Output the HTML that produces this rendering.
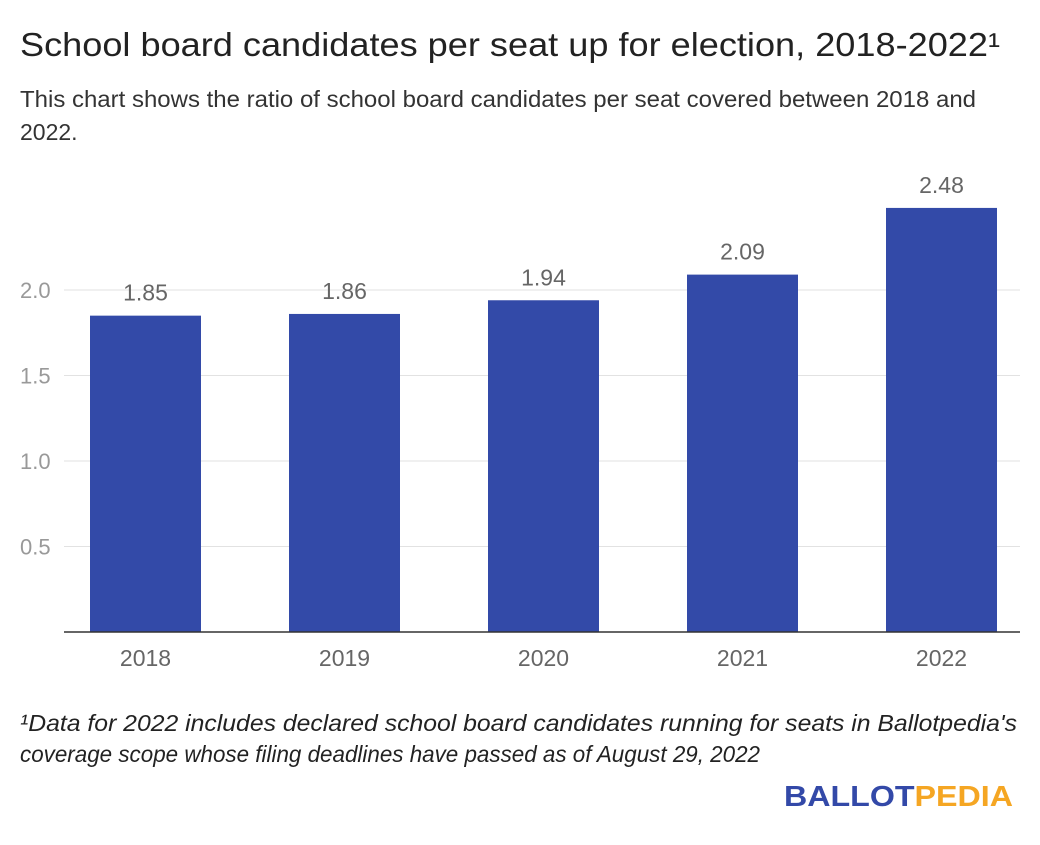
<!DOCTYPE html>
<html><head><meta charset="utf-8"><style>
body{margin:0;background:#fff;width:1040px;height:840px;overflow:hidden;font-family:"Liberation Sans",sans-serif}
</style></head><body>
<svg width="1040" height="840" xmlns="http://www.w3.org/2000/svg">
<text x="20" y="56" font-size="33" fill="#222" textLength="980" lengthAdjust="spacingAndGlyphs">School board candidates per seat up for election, 2018-2022¹</text>
<text x="20" y="107" font-size="23" fill="#333" textLength="956" lengthAdjust="spacingAndGlyphs">This chart shows the ratio of school board candidates per seat covered between 2018 and</text>
<text x="20" y="140" font-size="23" fill="#333">2022.</text>
<g id="grid"></g><g id="bars"></g>
<line x1="64" x2="1020" y1="632" y2="632" stroke="#333" stroke-width="1.5"/>
<text x="20" y="731" font-size="23.5" font-style="italic" fill="#222" textLength="997" lengthAdjust="spacingAndGlyphs">¹Data for 2022 includes declared school board candidates running for seats in Ballotpedia's</text>
<text x="20" y="762" font-size="23.5" font-style="italic" fill="#222" textLength="740" lengthAdjust="spacingAndGlyphs">coverage scope whose filing deadlines have passed as of August 29, 2022</text>
<text x="784" y="806" font-size="29" font-weight="bold" textLength="229" lengthAdjust="spacingAndGlyphs"><tspan fill="#3349a8">BALLOT</tspan><tspan fill="#f5a623">PEDIA</tspan></text>
</svg>
<script>
const categories=["2018","2019","2020","2021","2022"];
const values=[1.85,1.86,1.94,2.09,2.48];
const valueLabels=["1.85","1.86","1.94","2.09","2.48"];
const ticks=[0.5,1.0,1.5,2.0];
const tickLabels=["0.5","1.0","1.5","2.0"];
const NS="http://www.w3.org/2000/svg";
const y0=632,k=171,left=46,band=199;
const y=v=>y0-v*k;
const x=i=>left+band*i+band/2;
function mk(t,a,p,txt){const e=document.createElementNS(NS,t);for(const n in a)e.setAttribute(n,a[n]);if(txt!=null)e.textContent=txt;p.appendChild(e);return e;}
const g=document.getElementById('grid'),b=document.getElementById('bars');
ticks.forEach((t,i)=>{
const l=mk('line',{x1:64,x2:1020,y1:y(t),y2:y(t),stroke:'#e2e2e2','stroke-width':1},g);


const tx=mk('text',{x:20,y:y(t)+8,'font-size':22,fill:'#999'},g,tickLabels[i]);


});
categories.forEach((c,i)=>{
const r=mk('rect',{x:x(i)-55.5,y:y(values[i]),width:111,height:values[i]*k,fill:'#334aa8'},b);


const v=mk('text',{x:x(i),y:y(values[i])-15,'font-size':23,fill:'#666','text-anchor':'middle'},b,valueLabels[i]);


const xl=mk('text',{x:x(i),y:666,'font-size':23,fill:'#666','text-anchor':'middle'},b,c);


});
</script>
</body></html>
